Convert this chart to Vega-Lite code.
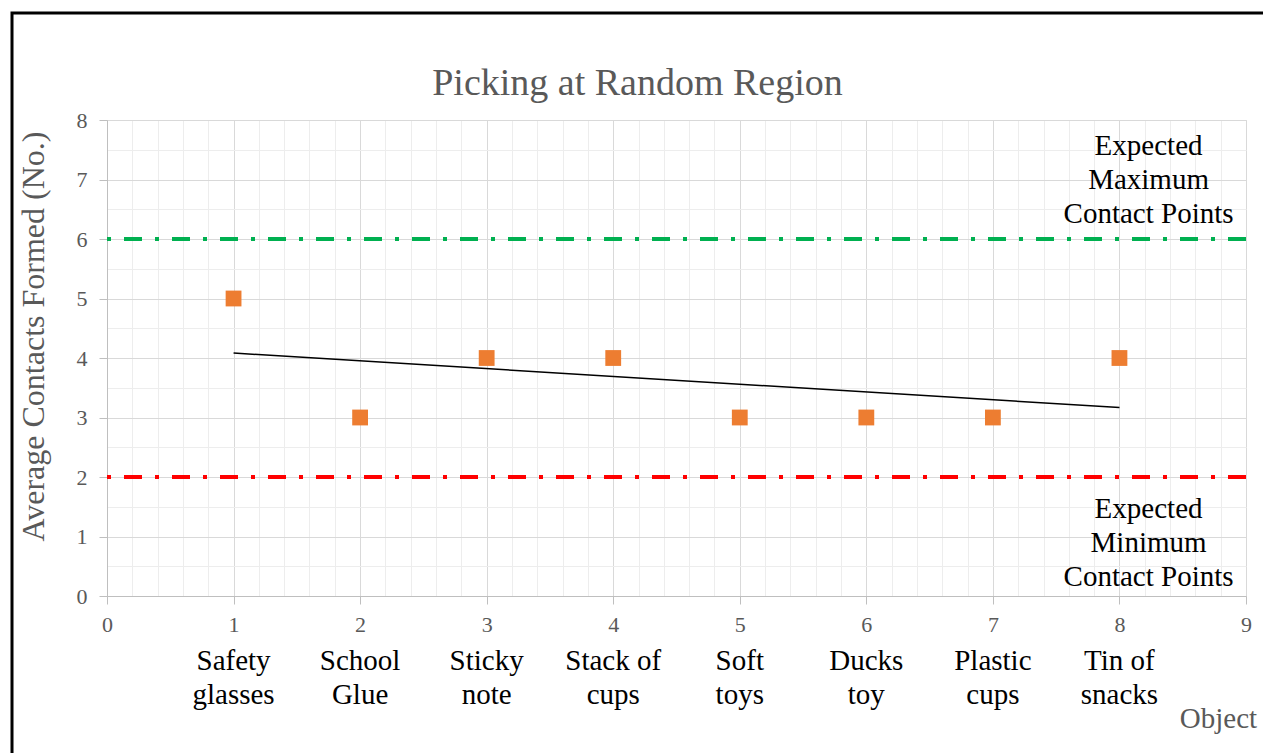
{
  "$schema": "https://vega.github.io/schema/vega-lite/v6.json",
  "width": 1139,
  "height": 476,
  "autosize": {"type": "none"},
  "padding": {"left": 107, "top": 120, "right": 17, "bottom": 157},
  "background": "white",
  "config": {
    "axis": {
      "labelFont": "Liberation Serif",
      "labelFontSize": 22,
      "labelColor": "#595959",
      "labelOverlap": false,
      "labelFlush": false,
      "titleFont": "Liberation Serif",
      "titleFontSize": 29,
      "titleFontWeight": "normal",
      "titleColor": "#595959",
      "tickColor": "#BFBFBF",
      "tickSize": 8,
      "domainColor": "#BFBFBF"
    }
  },
  "title": {
    "text": "Picking at Random Region",
    "font": "Liberation Serif",
    "fontSize": 38,
    "fontWeight": "normal",
    "color": "#595959",
    "frame": "group",
    "anchor": "middle",
    "dx": -39,
    "offset": -121.5,
    "baseline": "alphabetic"
  },
  "datasets": {
    "points": [
      {"object": "Safety glasses", "label": "Safety\nglasses", "x": 1, "y": 5},
      {"object": "School Glue", "label": "School\nGlue", "x": 2, "y": 3},
      {"object": "Sticky note", "label": "Sticky\nnote", "x": 3, "y": 4},
      {"object": "Stack of cups", "label": "Stack of\ncups", "x": 4, "y": 4},
      {"object": "Soft toys", "label": "Soft\ntoys", "x": 5, "y": 3},
      {"object": "Ducks toy", "label": "Ducks\ntoy", "x": 6, "y": 3},
      {"object": "Plastic cups", "label": "Plastic\ncups", "x": 7, "y": 3},
      {"object": "Tin of snacks", "label": "Tin of\nsnacks", "x": 8, "y": 4}
    ],
    "notes": [
      {"x": 8.23, "y": 7.41, "text": "Expected\nMaximum\nContact Points"},
      {"x": 8.23, "y": 1.31, "text": "Expected\nMinimum\nContact Points"}
    ],
    "one": [{}]
  },
  "resolve": {"axis": {"x": "independent", "y": "independent"}},
  "layer": [
    {
      "data": {"name": "points"},
      "mark": {"type": "point", "opacity": 0},
      "encoding": {
        "x": {
          "field": "x",
          "type": "quantitative",
          "scale": {"domain": [0, 9], "nice": false, "zero": false},
          "axis": {
            "orient": "bottom",
            "title": null,
            "values": [0.2,0.4,0.6,0.8,1.2,1.4,1.6,1.8,2.2,2.4,2.6,2.8,3.2,3.4,3.6,3.8,4.2,4.4,4.6,4.8,5.2,5.4,5.6,5.8,6.2,6.4,6.6,6.8,7.2,7.4,7.6,7.8,8.2,8.4,8.6,8.8],
            "labels": false,
            "ticks": false,
            "domain": false,
            "grid": true,
            "gridColor": "#EDEDED",
            "gridWidth": 1
          }
        },
        "y": {
          "field": "y",
          "type": "quantitative",
          "scale": {"domain": [0, 8], "nice": false, "zero": false},
          "axis": {
            "orient": "left",
            "title": null,
            "values": [0.5,1.5,2.5,3.5,4.5,5.5,6.5,7.5],
            "labels": false,
            "ticks": false,
            "domain": false,
            "grid": true,
            "gridColor": "#EDEDED",
            "gridWidth": 1
          }
        }
      }
    },
    {
      "layer": [
        {
          "data": {"name": "points"},
          "mark": {"type": "point", "opacity": 0},
          "encoding": {
            "x": {
              "field": "x",
              "type": "quantitative",
              "axis": {
                "orient": "bottom",
                "title": "Object",
                "titleX": 1111,
                "titleY": 131,
                "titleAlign": "center",
                "titleBaseline": "alphabetic",
                "values": [0, 1, 2, 3, 4, 5, 6, 7, 8, 9],
                "format": "d",
                "labelFont": "Liberation Serif",
                "labelFontSize": 22,
                "labelColor": "#595959",
                "labelPadding": 10,
                "labelFlush": false,
                "labelOverlap": false,
                "grid": true,
                "gridColor": "#D9D9D9",
                "gridWidth": 1,
                "ticks": true,
                "tickSize": 8
              }
            },
            "y": {
              "field": "y",
              "type": "quantitative",
              "axis": {
                "orient": "left",
                "title": "Average Contacts Formed (No.)",
                "titleFontSize": 32,
                "titleX": -74,
                "titleY": 216,
                "titleAngle": -90,
                "titleAlign": "center",
                "titleBaseline": "middle",
                "values": [0, 1, 2, 3, 4, 5, 6, 7, 8],
                "format": "d",
                "labelFont": "Liberation Serif",
                "labelFontSize": 22,
                "labelColor": "#595959",
                "labelPadding": 12,
                "labelFlush": false,
                "labelOverlap": false,
                "grid": true,
                "gridColor": "#D9D9D9",
                "gridWidth": 1,
                "tickSize": 8
              }
            }
          }
        },
        {
          "data": {"name": "one"},
          "mark": {"type": "rule", "color": "#00B050", "strokeWidth": 4, "strokeDash": [18, 13, 4, 13]},
          "encoding": {"y": {"datum": 6, "type": "quantitative"}}
        },
        {
          "data": {"name": "one"},
          "mark": {"type": "rule", "color": "#FF0000", "strokeWidth": 4, "strokeDash": [18, 13, 4, 13]},
          "encoding": {"y": {"datum": 2, "type": "quantitative"}}
        },
        {
          "data": {"name": "points"},
          "transform": [{"regression": "y", "on": "x"}],
          "mark": {"type": "line", "color": "black", "strokeWidth": 1.5},
          "encoding": {
            "x": {"field": "x", "type": "quantitative"},
            "y": {"field": "y", "type": "quantitative"}
          }
        },
        {
          "data": {"name": "points"},
          "mark": {"type": "point", "shape": "square", "filled": true, "size": 250, "color": "#ED7D31", "opacity": 1},
          "encoding": {
            "x": {"field": "x", "type": "quantitative"},
            "y": {"field": "y", "type": "quantitative"}
          }
        },
        {
          "data": {"name": "points"},
          "mark": {"type": "text", "font": "Liberation Serif", "fontSize": 29, "color": "black", "baseline": "alphabetic", "align": "center", "lineBreak": "\n", "lineHeight": 34, "clip": false},
          "encoding": {
            "x": {"field": "x", "type": "quantitative"},
            "y": {"datum": -1.25, "type": "quantitative"},
            "text": {"field": "label"}
          }
        },
        {
          "data": {"name": "notes"},
          "mark": {"type": "text", "font": "Liberation Serif", "fontSize": 29, "color": "black", "baseline": "alphabetic", "align": "center", "lineBreak": "\n", "lineHeight": 34, "clip": false},
          "encoding": {
            "x": {"field": "x", "type": "quantitative"},
            "y": {"field": "y", "type": "quantitative"},
            "text": {"field": "text"}
          }
        },
        {
          "data": {"name": "one"},
          "mark": {"type": "rect", "filled": false, "stroke": "black", "strokeWidth": 3, "clip": false},
          "encoding": {
            "x": {"datum": -0.7506, "type": "quantitative"},
            "x2": {"datum": 9.3},
            "y": {"datum": 9.798, "type": "quantitative"},
            "y2": {"datum": -3}
          }
        }
      ]
    }
  ]
}
